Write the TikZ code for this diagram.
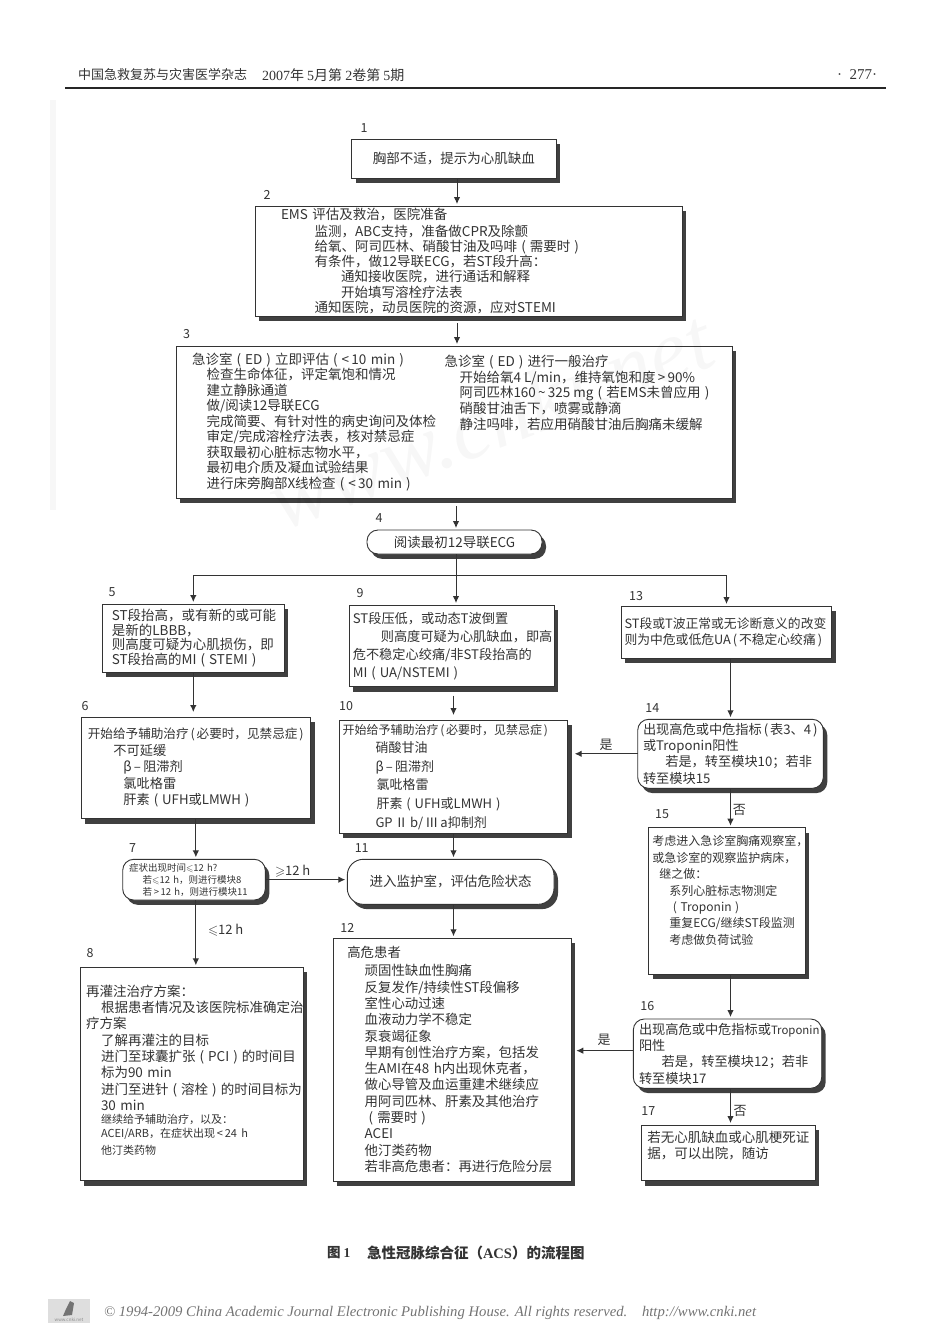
\documentclass[tikz,border=0pt]{standalone}
\usepackage{amssymb}
\usepackage{fontspec}
\setmainfont{Noto Sans CJK SC}
\newfontfamily\serfont{Liberation Serif}
\usetikzlibrary{arrows.meta,calc,shadows}
\definecolor{inkgray}{gray}{0.2}
\definecolor{shadegray}{gray}{0.25}
\newcommand{\fs}[2]{\fontsize{#1}{#2}\selectfont}
\newcommand{\ind}[1]{\hspace*{#1pt}}
\newcommand{\pa}[1]{\kern.3em(\kern.3em#1\kern.3em)\kern.3em}
\newcommand{\pb}[1]{\kern.15em(\kern.15em#1\kern.15em)\kern.15em}
\newcommand{\dn}[1]{\rule[-#1pt]{0pt}{0pt}}

\begin{document}
\begin{tikzpicture}[x=1pt,y=-1pt,
    >={Latex[length=7pt,width=6.5pt]},
    every node/.style={text=inkgray,inner sep=0pt,outer sep=0pt},
    box/.style={draw=inkgray,line width=0.9pt,fill=white,anchor=north west,align=left,
        general shadow={fill=shadegray,shadow xshift=4pt,shadow yshift=-4.8pt}},
    roundbox/.style={box,rounded corners=#1},
    numlabel/.style={font=\fs{12.5}{14}},
    condlabel/.style={font=\fs{13}{15}},
    arr/.style={->,draw=inkgray,line width=1pt,shorten >=2pt}
]
\useasboundingbox (0,0) rectangle (950,1344);

%------------------------ 页眉 ------------------------
\draw[line width=1.4pt,black!85] (65,88) -- (886,88);
\node[anchor=west,font=\fs{13}{15}] (jname) at (78,75) {中国急救复苏与灾害医学杂志};
\node[anchor=west,font=\fs{14}{15}] (issue) at (262,75) {{\serfont 2007}年 {\serfont 5}月第 {\serfont 2}卷第 {\serfont 5}期};
\node[anchor=east,font=\serfont\fs{15}{15}] (pageno) at (877,75) {·\ \ 277·};

% 扫描边
\fill[black!3] (50,100) rectangle (56,510);

%------------------------ 主干 ------------------------
\node[box,minimum width=204.5,minimum height=39,align=center,font=\fs{13.5}{15}] (box1) at (351.5,139) {胸部不适，提示为心肌缺血};

\node[box,minimum width=427,minimum height=110,inner xsep=26,text width=375,font=\fs{13.5}{15.2}] (box2) at (255,206) {%
EMS 评估及救治，医院准备\\[1.8pt]
\ind{33.7}监测，ABC支持，准备做CPR及除颤\\
\ind{33.7}给氧、阿司匹林、硝酸甘油及吗啡\pa{需要时}\\
\ind{33.7}有条件，做12导联ECG，若ST段升高：\\
\ind{60}通知接收医院，进行通话和解释\\
\ind{60}开始填写溶栓疗法表\\
\ind{33.7}通知医院，动员医院的资源，应对STEMI\dn{2}};

\node[box,minimum width=556,minimum height=152,inner xsep=15.6,text width=524,font=\fs{13.5}{15.5}] (box3) at (176,346) {%
急诊室\pa{ED}立即评估\pa{<\,10~min}\\
\ind{14.5}检查生命体征，评定氧饱和情况\\
\ind{14.5}建立静脉通道\\
\ind{14.5}做/阅读12导联ECG\\
\ind{14.5}完成简要、有针对性的病史询问及体检\\
\ind{14.5}审定/完成溶栓疗法表，核对禁忌症\\
\ind{14.5}获取最初心脏标志物水平，\\
\ind{14.5}最初电介质及凝血试验结果\\
\ind{14.5}进行床旁胸部X线检查\pa{<\,30~min}\dn{3}};
\node[anchor=north west,align=left,font=\fs{13.5}{15.7}] (box3r) at (444.5,355) {%
急诊室\pa{ED}进行一般治疗\\
\ind{15}开始给氧4~L/min，维持氧饱和度\,>\,90\%\\
\ind{15}阿司匹林160\,\textasciitilde\,325~mg\pa{若EMS未曾应用}\\
\ind{15}硝酸甘油舌下，喷雾或静滴\\
\ind{15}静注吗啡，若应用硝酸甘油后胸痛未缓解};

\node[roundbox=11pt,minimum width=175,minimum height=24,align=center,font=\fs{13.5}{15}] (box4) at (367,530) {阅读最初12导联ECG};

%------------------------ 左列 ------------------------
\node[box,minimum width=182,minimum height=68,inner xsep=9.4,text width=163,font=\fs{13.5}{14.6}] (box5) at (102.3,604) {%
ST段抬高，或有新的或可能\\
是新的LBBB，\\
则高度可疑为心肌损伤，即\\
ST段抬高的MI\pa{STEMI}};

\node[box,minimum width=229.7,minimum height=101.7,inner xsep=6.7,text width=216,font=\fs{13.2}{16.5}] (box6) at (81,717) {%
{\fs{12.6}{16.5}开始给予辅助治疗\pb{必要时，见禁忌症}}\\
\ind{25.6}不可延缓\\
\ind{35.6}β\,--\,阻滞剂\\
\ind{35.6}氯吡格雷\\
\ind{35.6}肝素\pa{UFH或LMWH}};

\node[roundbox=11pt,minimum width=142.3,minimum height=40.7,inner xsep=6.3,text width=130,font=\fs{9.5}{12}] (box7) at (122.7,859.3) {%
症状出现时间$\leqslant$12~h?\\
\ind{13.7}若$\leqslant$12~h，则进行模块8\\
\ind{13.7}若\,>\,12~h，则进行模块11};

\node[box,minimum width=223,minimum height=213.4,inner xsep=5.7,text width=211,font=\fs{13.5}{16.3}] (box8) at (80,967.3) {%
再灌注治疗方案：\\
\ind{15}根据患者情况及该医院标准确定治\\
疗方案\\
\ind{15}了解再灌注的目标\\
\ind{15}进门至球囊扩张\pa{PCI}的时间目\\
\ind{15}标为90~min\\
\ind{15}进门至进针\pa{溶栓}的时间目标为\\
\ind{15}30~min\\[-1pt]
{\fs{11}{14.2}\ind{15}继续给予辅助治疗，以及：\\
\ind{15}ACEI/ARB，在症状出现\,<\,24~h\\
\ind{15}他汀类药物}\dn{9}};

%------------------------ 中列 ------------------------
\node[box,minimum width=205,minimum height=81.7,inner xsep=3.4,text width=198,font=\fs{13.2}{18}] (box9) at (349.3,605) {%
ST段压低，或动态T波倒置\\
\ind{28}则高度可疑为心肌缺血，即高\\
危不稳定心绞痛/非ST段抬高的\\
MI\pa{UA/NSTEMI}};

\node[box,minimum width=228.4,minimum height=113.3,inner xsep=2.7,text width=222,font=\fs{13}{18.6}] (box10) at (339.3,720) {%
{\fs{12}{18.6}开始给予辅助治疗\pb{必要时，见禁忌症}}\\
\ind{33}硝酸甘油\\
\ind{33}β\,--\,阻滞剂\\
\ind{34}氯吡格雷\\
\ind{34}肝素\pa{UFH或LMWH}\\
\ind{33}GP\,Ⅱ\,b/\,Ⅲ\,a抑制剂\dn{2}};

\node[roundbox=16pt,minimum width=206.7,minimum height=45,align=center,font=\fs{13.5}{15}] (box11) at (347.3,859.3) {进入监护室，评估危险状态};

\node[box,minimum width=237.7,minimum height=242.7,inner xsep=14,text width=210,font=\fs{13.4}{16.3}] (box12) at (333.3,938.3) {%
高危患者\\[1.6pt]
\ind{17.4}顽固性缺血性胸痛\\
\ind{17.4}反复发作/持续性ST段偏移\\
\ind{17.4}室性心动过速\\
\ind{17.4}血液动力学不稳定\\
\ind{17.4}泵衰竭征象\\
\ind{17.4}早期有创性治疗方案，包括发\\
\ind{17.4}生AMI在48~h内出现休克者，\\
\ind{17.4}做心导管及血运重建术继续应\\
\ind{17.4}用阿司匹林、肝素及其他治疗\\
\ind{17.4}\pa{需要时}\\
\ind{17.4}ACEI\\
\ind{17.4}他汀类药物\\
\ind{17.4}若非高危患者：再进行危险分层};

%------------------------ 右列 ------------------------
\node[box,minimum width=210.4,minimum height=52.3,inner xsep=2.7,text width=204,font=\fs{12.8}{16.4}] (box13) at (621.3,606) {%
ST段或T波正常或无诊断意义的改变\\
则为中危或低危UA\pb{不稳定心绞痛}};

\node[roundbox=11pt,minimum width=185.6,minimum height=69,inner xsep=5,text width=175,font=\fs{13.2}{16.3}] (box14) at (637.7,719.3) {%
出现高危或中危指标\pb{表3、4}\\
或Troponin阳性\\
\ind{22.3}若是，转至模块10；若非\\
转至模块15};

\node[box,minimum width=156.3,minimum height=146.6,inner xsep=3.6,text width=149,font=\fs{12}{16.4}] (box15) at (648.7,827.7) {%
考虑进入急诊室胸痛观察室，\\
或急诊室的观察监护病床，\\
\ind{7}继之做：\\
\ind{17}系列心脏标志物测定\\
\ind{17}\pa{Troponin}\\
\ind{17}重复ECG/继续ST段监测\\
\ind{17}考虑做负荷试验\dn{22}};

\node[roundbox=11pt,minimum width=188.4,minimum height=69.3,inner xsep=5.7,text width=177,font=\fs{13.2}{16.3}] (box16) at (633.3,1019) {%
出现高危或中危指标或{\fs{11.4}{16.3}Troponin}\\
阳性\\
\ind{22.7}若是，转至模块12；若非\\
转至模块17};

\node[box,minimum width=174,minimum height=55.7,inner xsep=6,text width=162,font=\fs{13.5}{16.6}] (box17) at (641.3,1125) {%
若无心肌缺血或心肌梗死证\\
据，可以出院，随访\dn{16}};

%------------------------ 模块编号 ------------------------
\foreach \n/\x/\y in {1/364/128,2/267/195,3/186.5/334,4/379/518,5/112/592,6/85/706,
    7/132.7/848,8/90/952.7,9/360/593,10/346/706,11/361.7/848.3,12/347.3/928.3,
    13/636/595.7,14/652.3/708.3,15/662/814.3,16/647.3/1005.7,17/648.3/1110.7}
  \node[numlabel] (num\n) at (\x,\y) {\n};

%------------------------ 连接线 ------------------------
\coordinate (trunk) at (457,0);
\coordinate (split) at (456,575);

\draw[arr] (box1.south -| trunk) -- (box2.north -| trunk);
\draw[arr,shorten <=7pt] (box2.south -| trunk) -- (box3.north -| trunk);
\draw[arr,shorten <=8pt] (box3.south -| split) -- (box4.north -| split);

% 分为三路
\draw[line width=1pt,draw=inkgray] (box4.south -| split) -- (split);
\draw[arr] (split) -| (box5.north);
\draw[arr] (split) -- (box9.north -| split);
\draw[arr] (split) -| (box13.north);

\draw[arr,shorten >=5pt] (box5.south) -- (box5.south |- box6.north);
\draw[arr] (box6.south) -- (box6.south |- box7.north);
\draw[arr] (box7.south -| box6.south) -- (box8.north -| box6.south);
\draw[arr] (box7.east) -- (box7.east -| box11.west);
\node[condlabel,anchor=west] (ge12) at (275,871) {$\geqslant$12 h};
\node[condlabel,anchor=west] (le12) at (208,930) {$\leqslant$12 h};

\draw[arr,shorten <=9pt,shorten >=5pt] (box10.north |- box9.south) -- (box10.north);
\draw[arr] (box10.south) -- (box10.south |- box11.north);
\draw[arr] (box11.south -| box10.south) -- (box12.north -| box10.south);

\draw[arr] (box14.north |- box13.south) -- (box14.north);
\draw[arr,shorten >=7pt] (box14.west) -- (box14.west -| box10.east);
\draw[arr] (box14.south) -- (box14.south |- box15.north);
\draw[arr] (box15.south -| box14.south) -- (box16.north -| box14.south);
\draw[arr,shorten >=5pt] ([yshift=3pt]box16.west) -- ([yshift=3pt]box16.west -| box12.east);
\draw[arr] (box16.south -| box14.south) -- (box17.north -| box14.south);

\node[condlabel] (yes14) at (606,745) {是};
\node[condlabel] (no14) at (739.3,810) {否};
\node[condlabel] (yes16) at (604,1040) {是};
\node[condlabel] (no16) at (740,1110.7) {否};

% 水印
\node[rotate=21,font=\serfont\itshape\fs{88}{90},text=black,text opacity=0.03] (mark) at (490,420) {www.cnki.net};

%------------------------ 图题与页脚 ------------------------
\node[anchor=west,font=\bfseries\fs{13.5}{15}] (figno) at (327,1252.7) {图 {\serfont 1}};
\node[anchor=west,font=\bfseries\fs{14.5}{16}] (caption) at (367,1252.7) {急性冠脉综合征（{\serfont ACS}）的流程图};

\fill[black!13] (48,1299) rectangle (90,1323);
\fill[black!55] (66,1309) -- (70,1301) -- (74,1303) -- (72,1315) -- (63,1316) -- cycle;
\node[font=\fs{4.5}{5},text=black!45] (logotext) at (69,1319.5) {www.cnki.net};
\node[anchor=west,font=\serfont\itshape\fs{14.7}{17},text=black!55] (copyline) at (104,1312.7) {© 1994-2009 China Academic Journal Electronic Publishing House. All rights reserved.\quad http://www.cnki.net};
\end{tikzpicture}
\end{document}
